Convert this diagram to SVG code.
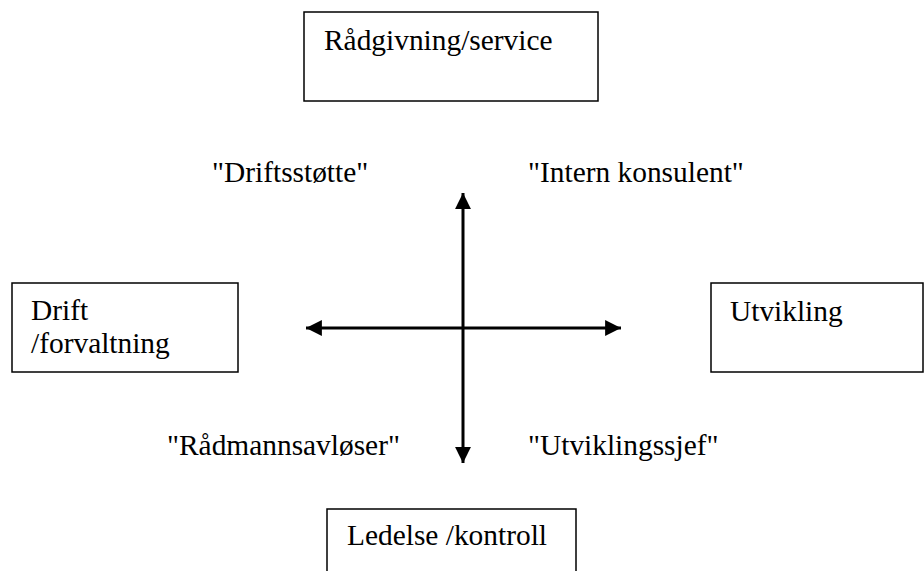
<svg xmlns="http://www.w3.org/2000/svg" width="924" height="571" viewBox="0 0 924 571">
<style>
text{font-family:'Liberation Serif','Times New Roman',Tinos,'DejaVu Serif',serif;font-size:29.4px;fill:#000}
.box{fill:#fff;stroke:#000;stroke-width:1.5}
.ax{stroke:#000;stroke-width:3;fill:none}
</style>
<defs>
<marker id="ah" viewBox="0 0 10 10" refX="10" refY="5" markerWidth="5.3" markerHeight="5.3" markerUnits="strokeWidth" orient="auto-start-reverse">
<path d="M0,0 L10,5 L0,10 Z" fill="#000"/>
</marker>
</defs>
<rect width="924" height="571" fill="#fff"/>
<g id="radgivning"><rect class="box" x="304" y="12" width="294" height="89"/><text x="324" y="50" font-family="Liberation Serif, serif">Rådgivning/service</text></g>
<g id="drift"><rect class="box" x="12" y="283" width="226" height="89"/><text x="31" y="320">Drift</text><text x="31" y="353">/forvaltning</text></g>
<g id="utvikling"><rect class="box" x="711" y="283" width="212" height="89"/><text x="730" y="321">Utvikling</text></g>
<g id="ledelse"><path class="box" d="M327,572 V509 H576 V572"/><text x="347" y="545">Ledelse /kontroll</text></g>
<g id="labels">
<text x="212" y="182">"Driftsstøtte"</text>
<text x="528" y="182">"Intern konsulent"</text>
<text x="167" y="455">"Rådmannsavløser"</text>
<text x="528" y="455">"Utviklingssjef"</text>
</g>
<g id="connectors">
<line class="ax" x1="463" y1="463" x2="463" y2="193" marker-start="url(#ah)" marker-end="url(#ah)"/>
<line class="ax" x1="306" y1="328" x2="621" y2="328" marker-start="url(#ah)" marker-end="url(#ah)"/>
</g>
</svg>
